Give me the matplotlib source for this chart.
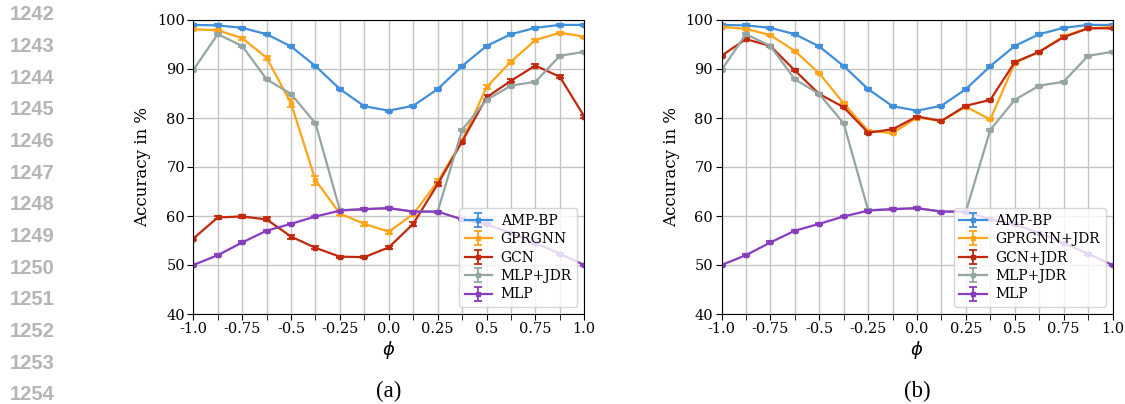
import numpy as np
import matplotlib
matplotlib.use("Agg")
import matplotlib.pyplot as plt
from matplotlib.ticker import MultipleLocator, FixedLocator

phi = [-1.0, -0.875, -0.75, -0.625, -0.5, -0.375, -0.25, -0.125, 0.0,
       0.125, 0.25, 0.375, 0.5, 0.625, 0.75, 0.875, 1.0]
xtick_vals = [-1.0, -0.75, -0.5, -0.25, 0.0, 0.25, 0.5, 0.75, 1.0]
xtick_labels = ["-1.0", "-0.75", "-0.5", "-0.25", "0.0", "0.25", "0.5", "0.75", "1.0"]

amp_bp = [99.0, 98.9, 98.4, 97.1, 94.6, 90.6, 85.9, 82.4, 81.5, 82.5, 85.9, 90.6, 94.7, 97.1, 98.4, 99.0, 99.0]
gprgnn = [98.1, 97.9, 96.3, 92.3, 83.0, 67.3, 60.5, 58.4, 56.8, 60.4, 67.0, 75.3, 86.3, 91.5, 95.9, 97.4, 96.6]
gcn = [55.4, 59.7, 59.9, 59.3, 55.8, 53.5, 51.7, 51.6, 53.6, 58.4, 66.5, 75.2, 84.2, 87.6, 90.7, 88.4, 80.3]
mlp_jdr = [89.8, 97.1, 94.7, 87.9, 84.9, 78.9, 61.2, 61.4, 61.6, 60.9, 60.9, 77.6, 83.7, 86.6, 87.4, 92.7, 93.5]
mlp = [50.0, 52.0, 54.6, 57.0, 58.4, 59.9, 61.1, 61.4, 61.6, 60.9, 60.9, 59.3, 58.3, 56.5, 54.5, 52.3, 50.0]
gprgnn_jdr = [98.6, 98.2, 96.9, 93.7, 89.1, 83.0, 77.4, 76.9, 80.1, 79.4, 82.3, 79.7, 91.2, 93.5, 96.7, 98.3, 98.6]
gcn_jdr = [92.7, 96.1, 94.7, 89.7, 84.9, 82.2, 77.0, 77.7, 80.3, 79.4, 82.5, 83.7, 91.4, 93.5, 96.5, 98.3, 98.3]

err_small = [0.2] * 17
err_gprgnn = [0.2, 0.2, 0.3, 0.4, 0.8, 0.9, 0.3, 0.4, 0.4, 0.3, 0.5, 0.4, 0.4, 0.3, 0.3, 0.2, 0.2]
err_gcn = [0.3, 0.3, 0.4, 0.4, 0.4, 0.3, 0.2, 0.2, 0.3, 0.4, 0.4, 0.4, 0.4, 0.3, 0.3, 0.3, 0.3]

C_BLUE = "#3f8fdb"
C_ORANGE = "#ffa41b"
C_RED = "#c0290e"
C_GRAY = "#95a5a3"
C_PURPLE = "#8a3cbf"

SERIF = "DejaVu Serif"

fig = plt.figure(figsize=(11.25, 4.04), dpi=100)

# line numbers at left margin
for i, n in enumerate(range(1242, 1255)):
    fig.text(10 / 1125, 1 - (15 + i * 31.65) / 404, str(n), ha="left", va="center",
             fontsize=14.5, fontweight="bold", color="#b5b5b5", family="Liberation Sans")

panels = [
    (193.3, [("AMP-BP", amp_bp, err_small, C_BLUE),
             ("GPRGNN", gprgnn, err_gprgnn, C_ORANGE),
             ("GCN", gcn, err_gcn, C_RED),
             ("MLP+JDR", mlp_jdr, err_small, C_GRAY),
             ("MLP", mlp, err_small, C_PURPLE)], "(a)"),
    (721.5, [("AMP-BP", amp_bp, err_small, C_BLUE),
             ("GPRGNN+JDR", gprgnn_jdr, err_small, C_ORANGE),
             ("GCN+JDR", gcn_jdr, err_small, C_RED),
             ("MLP+JDR", mlp_jdr, err_small, C_GRAY),
             ("MLP", mlp, err_small, C_PURPLE)], "(b)"),
]

for left_px, series, tag in panels:
    ax = fig.add_axes([left_px / 1125, 1 - 314 / 404, 391 / 1125, 294 / 404])
    for name, vals, err, col in series:
        ax.errorbar(phi, vals, yerr=err, color=col, lw=1.6, marker="s", markersize=3.4,
                    capsize=3, capthick=1.3, elinewidth=1.3, label=name)
    ax.set_xlim(-1.0, 1.0)
    ax.set_ylim(40, 100)
    ax.set_xticks(xtick_vals)
    ax.set_xticklabels(xtick_labels)
    ax.xaxis.set_minor_locator(MultipleLocator(0.125))
    ax.yaxis.set_major_locator(MultipleLocator(10))
    ax.grid(True, which="both", axis="x", color="#c4c4c4", lw=1.0)
    ax.grid(True, which="major", axis="y", color="#c4c4c4", lw=1.0)
    ax.set_axisbelow(True)
    ax.tick_params(axis="both", which="major", length=4, labelsize=10.5, pad=2)
    ax.tick_params(axis="x", which="minor", length=4)
    for lab in ax.get_xticklabels() + ax.get_yticklabels():
        lab.set_family(SERIF)
    ax.set_ylabel("Accuracy in %", family=SERIF, fontsize=12, labelpad=4)
    ax.set_xlabel(r"$\phi$", fontsize=13, labelpad=2)
    leg = ax.legend(loc="lower right", prop={"family": SERIF, "size": 10},
                    framealpha=0.8, handlelength=2.0, borderpad=0.4, labelspacing=0.32,
                    handletextpad=0.6)
    ax.text(0.5, -0.265, tag, transform=ax.transAxes, ha="center", va="center",
            fontsize=16.5, family="Liberation Serif")

fig.savefig("out.png", dpi=100)
